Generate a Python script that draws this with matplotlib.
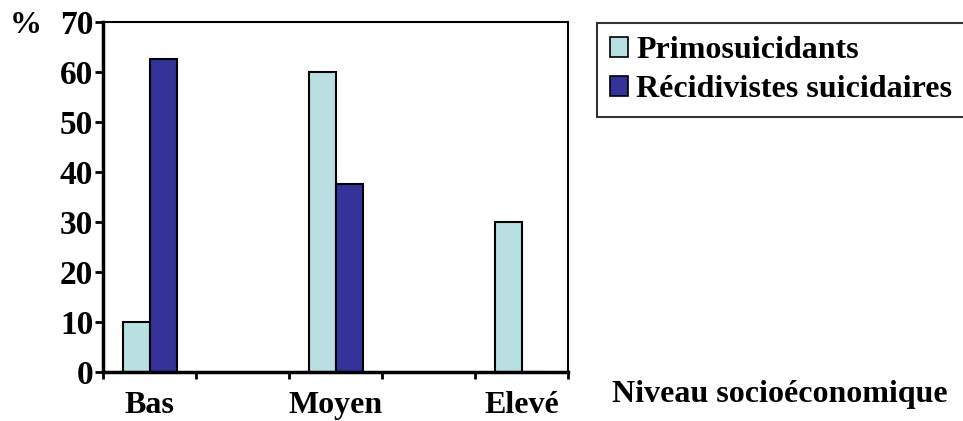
import numpy as np
import matplotlib.pyplot as plt

categories = ["Bas", "Moyen", "Elevé"]
primo = [10, 60, 30]
recid = [62.5, 37.5, 0]
series_names = ["Primosuicidants", "Récidivistes suicidaires"]

light = "#b8e0e3"
dark = "#333399"

plt.rcParams["font.family"] = ["Liberation Serif", "DejaVu Serif"]
plt.rcParams["font.weight"] = "bold"

fig = plt.figure(figsize=(9.63, 4.21), dpi=100)
ax = fig.add_axes([0.107, 0.1164, 0.483, 0.8316])

x = np.arange(len(categories))
w = 0.145
b1 = ax.bar(x - w / 2, primo, w, color=light, edgecolor="black", linewidth=1.5,
            label=series_names[0])
b2 = ax.bar(x + w / 2, recid, w, color=dark, edgecolor="black", linewidth=1.5,
            label=series_names[1])

ax.set_xlim(-0.25, 2.25)
ax.set_ylim(0, 70)
ax.set_yticks(range(0, 71, 10))
ax.set_yticklabels([str(v) for v in range(0, 71, 10)], fontsize=24, fontweight="bold")
ax.set_xticks(np.arange(-0.25, 2.26, 0.5))
ax.set_xticklabels([])
ax.set_xticks(x, minor=True)
ax.set_xticklabels(categories, minor=True, fontsize=23, fontweight="bold")
ax.tick_params(axis="x", which="minor", length=0, pad=14)
ax.tick_params(axis="x", which="major", direction="out", length=5, width=2)
ax.tick_params(axis="y", direction="out", length=6, width=2, pad=1)

ax.spines["left"].set_linewidth(2.5)
ax.spines["bottom"].set_linewidth(2.5)
ax.spines["top"].set_linewidth(1.5)
ax.spines["right"].set_linewidth(1.5)

fig.text(0.01, 0.94, "%", fontsize=23, fontweight="bold", va="center", ha="left")
fig.text(0.81, 0.062, "Niveau socioéconomique", fontsize=23, fontweight="bold",
         va="center", ha="center")

leg = fig.legend(handles=[b1, b2], loc="upper left", bbox_to_anchor=(0.62, 0.945),
                 prop={"weight": "bold", "size": 23}, frameon=True,
                 fancybox=False, handlelength=0.58, handleheight=0.58,
                 handletextpad=0.25, borderpad=0.4, labelspacing=0.32,
                 borderaxespad=0)
leg.get_frame().set_edgecolor("black")
leg.get_frame().set_linewidth(1.5)
for h in leg.legend_handles:
    h.set_linewidth(1.2)

fig.savefig("out.png", dpi=100)
